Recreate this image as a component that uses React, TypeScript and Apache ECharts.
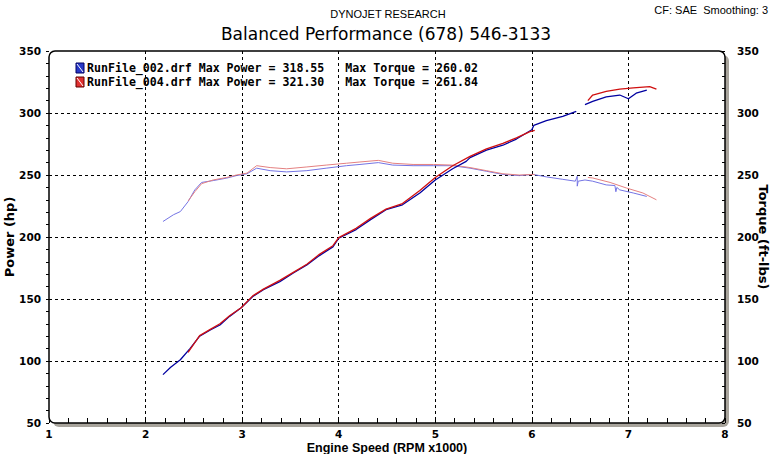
import React, { useEffect, useRef } from "react";
import * as echarts from "echarts";

// Run 002 — power (hp)
const rpm002Power = [2.18, 2.26, 2.36, 2.46, 2.56, 2.67, 2.77, 2.87, 2.99, 3.11, 3.22, 3.39, 3.53, 3.67, 3.8, 3.94, 4.0, 4.18, 4.33, 4.49, 4.66, 4.84, 5.0, 5.18, 5.32, 5.36, 5.53, 5.7, 5.84, 6.0, 6.02, 6.15, 6.32, 6.46, null, 6.55, 6.63, 6.77, 6.91, 7.0, 7.08, 7.19];
const hp002 = [89, 95, 101, 110, 120, 125, 129, 136, 143, 152, 157.5, 164, 171, 177.5, 185, 192, 199, 206, 214, 222, 226, 235.5, 246, 255, 261, 264, 270, 274, 279, 286.5, 290, 293.8, 297.3, 301.3, null, 306.7, 309.4, 313, 314.5, 311.5, 316, 318.5];

// Run 004 — power (hp)
const rpm004Power = [2.44, 2.56, 2.67, 2.77, 2.87, 2.99, 3.11, 3.22, 3.39, 3.53, 3.67, 3.8, 3.94, 4.0, 4.18, 4.33, 4.49, 4.66, 4.84, 5.0, 5.18, 5.36, 5.53, 5.7, 5.84, 5.98, 6.03, null, 6.58, 6.63, 6.77, 6.91, 7.05, 7.22, 7.29];
const hp004 = [107, 120.5, 125.5, 130, 136.5, 143, 152.5, 158, 165, 171.5, 178, 186, 193, 199.5, 207, 215, 222.5, 227, 237.5, 248, 257.5, 265, 271, 275.5, 280, 285, 286, null, 310, 314.5, 317.4, 319.3, 320.2, 321.3, 319.3];

// Run 002 — torque (ft-lbs)
const rpm002Torque = [2.18, 2.29, 2.36, 2.44, 2.51, 2.58, 2.7, 2.84, 2.94, 3.05, 3.15, 3.29, 3.46, 3.67, 3.87, 4.08, 4.22, 4.41, 4.56, 4.77, 4.98, 5.18, 5.36, 5.53, 5.7, 5.87, 6.01, 6.15, 6.32, 6.45, 6.47, 6.47, 6.48, 6.55, 6.63, 6.77, 6.86, 6.87, 6.88, 6.91, 7.05, 7.19];
const tq002 = [212.5, 218, 220.5, 228.5, 238, 244, 245.5, 247.5, 249.5, 251, 255.5, 253.5, 252.5, 253.5, 255.5, 257.5, 258.5, 260, 258, 257.5, 257.5, 257.5, 255.5, 253, 250.5, 249.5, 250.5, 248.5, 246.5, 245, 249, 241, 245, 246, 245, 242, 241.5, 236.5, 240, 238, 235.5, 232.7];

// Run 004 — torque (ft-lbs)
const rpm004Torque = [2.44, 2.51, 2.58, 2.7, 2.84, 2.94, 3.05, 3.15, 3.29, 3.46, 3.67, 3.87, 4.08, 4.22, 4.41, 4.56, 4.77, 4.98, 5.18, 5.36, 5.53, 5.7, 5.87, 6.03, null, 6.58, 6.63, 6.81, 6.98, 7.15, 7.29];
const tq004 = [229, 236.5, 243, 246, 248, 250, 251.5, 257.5, 256, 255, 256.5, 258, 259.5, 260.5, 261.8, 259.5, 258.5, 258.5, 258, 256, 253.5, 251, 250, 250.5, null, 248, 247.6, 244, 239.5, 235.5, 230];

const legendLines = [
  "RunFile_002.drf Max Power = 318.55   Max Torque = 260.02",
  "RunFile_004.drf Max Power = 321.30   Max Torque = 261.84",
];

const zip = (xs: (number | null)[], ys: (number | null)[]) =>
  xs.map((x, i) => (x === null || ys[i] === null ? [null, null] : [x, ys[i]]));

export default function App() {
  const ref = useRef<HTMLDivElement>(null);
  useEffect(() => {
    if (!ref.current) return;
    const chart = echarts.init(ref.current, undefined, { renderer: "svg" });
    const L = 49, T = 51, W = 676, H = 372;
    const tickFont = { fontFamily: "DejaVu Sans", fontWeight: "bold" as const, fontSize: 10.5, color: "#000" };
    const split = { show: true, showMinLine: false, showMaxLine: false, lineStyle: { color: "#000", type: [3, 3] as any, width: 1 } };
    chart.setOption({
      animation: false,
      backgroundColor: "#fff",
      grid: { left: L, top: T, width: W, height: H, show: false, containLabel: false, outerBoundsMode: "none" },
      xAxis: {
        type: "value", min: 1, max: 8, interval: 1,
        axisLine: { show: false },
        axisTick: { show: true, inside: true, length: 5, lineStyle: { color: "#000" } },
        minorTick: { show: true, splitNumber: 5, length: 5, lineStyle: { color: "#000" } },
        axisLabel: { ...tickFont, margin: 5 },
        splitLine: split,
        name: "Engine Speed (RPM x1000)",
        nameLocation: "middle",
        nameGap: 18,
        nameMoveOverlap: false,
        nameTextStyle: { fontFamily: "Liberation Sans", fontWeight: "bold", fontSize: 12.5, color: "#000" },
      },
      yAxis: [
        {
          type: "value", min: 50, max: 350, interval: 50, position: "left",
          axisLine: { show: false },
          axisTick: { show: true, inside: false, length: 3, lineStyle: { color: "#000" } },
          minorTick: { show: true, splitNumber: 5, length: 3, lineStyle: { color: "#000" } },
          axisLabel: { ...tickFont, margin: 8 },
          splitLine: split,
          name: "Power (hp)", nameLocation: "middle", nameGap: 33, nameRotate: 90, nameMoveOverlap: false,
          nameTextStyle: { fontFamily: "DejaVu Sans", fontWeight: "bold", fontSize: 13, color: "#000" },
        },
        {
          type: "value", min: 50, max: 350, interval: 50, position: "right",
          axisLine: { show: false },
          axisTick: { show: true, inside: true, length: 3, lineStyle: { color: "#000" } },
          minorTick: { show: true, splitNumber: 5, length: 3, lineStyle: { color: "#000" } },
          axisLabel: { ...tickFont, margin: 12 },
          splitLine: { show: false },
          name: "Torque (ft-lbs)", nameLocation: "middle", nameGap: 32, nameRotate: -90, nameMoveOverlap: false,
          nameTextStyle: { fontFamily: "DejaVu Sans", fontWeight: "bold", fontSize: 13, color: "#000" },
        },
      ],
      series: [
        { type: "line", name: "Torque 002", yAxisIndex: 1, data: zip(rpm002Torque, tq002), showSymbol: false, connectNulls: false, lineStyle: { color: "#7474E4", width: 1 }, z: 3 },
        { type: "line", name: "Torque 004", yAxisIndex: 1, data: zip(rpm004Torque, tq004), showSymbol: false, connectNulls: false, lineStyle: { color: "#E48080", width: 1 }, z: 4 },
        { type: "line", name: "Power 002", yAxisIndex: 0, data: zip(rpm002Power, hp002), showSymbol: false, connectNulls: false, lineStyle: { color: "#0000A0", width: 1.3 }, z: 5 },
        { type: "line", name: "Power 004", yAxisIndex: 0, data: zip(rpm004Power, hp004), showSymbol: false, connectNulls: false, lineStyle: { color: "#D01010", width: 1.3 }, z: 6 },
      ],
      graphic: {
        elements: [
          { type: "rect", z: -3, shape: { x: L + 4, y: T + 4, width: W, height: H, r: 6 }, style: { fill: "#A8A49C" }, silent: true },
          { type: "rect", z: -2, shape: { x: L, y: T, width: W, height: H, r: 6 }, style: { fill: "#fff" }, silent: true },
          { type: "rect", z: 50, shape: { x: L, y: T, width: W, height: H, r: 6 }, style: { fill: "none", stroke: "#000", lineWidth: 1.5 }, silent: true },
          { type: "text", z: 50, x: 388, y: 14, style: { text: "DYNOJET RESEARCH", fill: "#000", font: "11px 'Liberation Sans'", align: "center", verticalAlign: "middle" } },
          { type: "text", z: 50, x: 386, y: 34, style: { text: "Balanced Performance (678) 546-3133", fill: "#000", font: "17px 'DejaVu Sans'", align: "center", verticalAlign: "middle" } },
          { type: "text", z: 50, x: 768, y: 10, style: { text: "CF: SAE  Smoothing: 3", fill: "#000", font: "11px 'Liberation Sans'", align: "right", verticalAlign: "middle" } },
          { type: "rect", z: 50, shape: { x: 76, y: 63, width: 8, height: 10 }, style: { fill: "#2838C8", stroke: "#000060", lineWidth: 1 } },
          { type: "line", z: 51, shape: { x1: 77, y1: 64, x2: 83, y2: 72 }, style: { stroke: "#fff", lineWidth: 1 } },
          { type: "rect", z: 50, shape: { x: 76, y: 77, width: 8, height: 10 }, style: { fill: "#E03030", stroke: "#600000", lineWidth: 1 } },
          { type: "line", z: 51, shape: { x1: 77, y1: 78, x2: 83, y2: 86 }, style: { stroke: "#fff", lineWidth: 1 } },
          { type: "text", z: 50, x: 87, y: 68, style: { text: legendLines[0], fill: "#000", font: "bold 11.6px 'DejaVu Sans Mono'", align: "left", verticalAlign: "middle" } },
          { type: "text", z: 50, x: 87, y: 82, style: { text: legendLines[1], fill: "#000", font: "bold 11.6px 'DejaVu Sans Mono'", align: "left", verticalAlign: "middle" } },
        ],
      },
    });
    return () => chart.dispose();
  }, []);
  return <div ref={ref} style={{ position: "fixed", left: 0, top: 0, width: 773, height: 454 }} />;
}
